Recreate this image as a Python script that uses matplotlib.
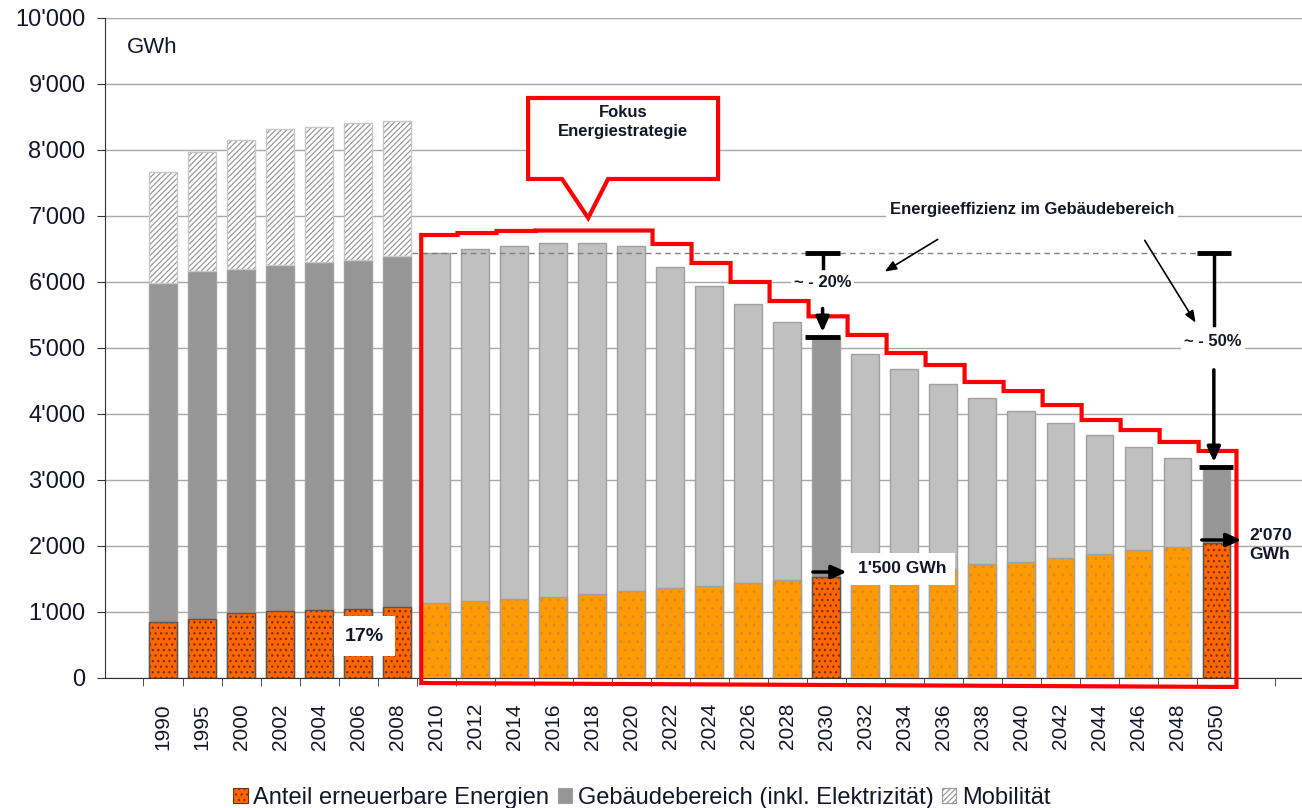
import numpy as np
import matplotlib
matplotlib.use("Agg")
import matplotlib.pyplot as plt
from matplotlib.patches import Patch, Polygon
from matplotlib.ticker import FuncFormatter, FixedLocator

plt.rcParams['font.family'] = ['Liberation Sans', 'DejaVu Sans']
plt.rcParams['hatch.linewidth'] = 0.9

years = ['1990', '1995', '2000', '2002', '2004', '2006', '2008',
         '2010', '2012', '2014', '2016', '2018', '2020', '2022', '2024', '2026',
         '2028', '2030', '2032', '2034', '2036', '2038', '2040', '2042', '2044',
         '2046', '2048', '2050']
# Anteil erneuerbare Energien (GWh)
renew = [850, 895, 985, 1015, 1030, 1045, 1075,
         1135, 1160, 1195, 1230, 1270, 1320, 1360, 1395, 1445,
         1485, 1525, 1575, 1610, 1650, 1725, 1760, 1820, 1880,
         1940, 1985, 2045]
# Gebaeudebereich incl. erneuerbare (GWh)
building = [5985, 6165, 6195, 6255, 6305, 6335, 6395,
            6445, 6500, 6545, 6590, 6590, 6545, 6230, 5940, 5670,
            5395, 5170, 4910, 4680, 4450, 4240, 4045, 3865, 3680,
            3495, 3330, 3165]
# Mobilitaet, only historic years
mobility = [1680, 1805, 1955, 2065, 2045, 2075, 2045]
# red "Fokus" outline level per future bar (2010-2050)
focus_top = [6712, 6742, 6773, 6780, 6780, 6780, 6576, 6288, 6000, 5712,
             5480, 5197, 4924, 4742, 4485, 4348, 4136, 3909, 3757, 3576, 3440]

n_hist = len(mobility)
x = np.arange(len(years))
w = 0.7
txt = '#15152a'

fig = plt.figure(figsize=(13.02, 8.08), dpi=100)
ax = fig.add_axes([105 / 1302, 130 / 808, 1197 / 1302, 660 / 808])

ax.set_ylim(0, 10000)
ax.set_xlim(-1.487, 29.2)
ax.yaxis.set_major_locator(FixedLocator(np.arange(0, 10001, 1000)))
ax.yaxis.set_major_formatter(FuncFormatter(lambda v, p: f"{int(v):,}".replace(',', "'")))
ax.grid(axis='y', color='#a8a8a8', lw=1.0, zorder=0)
ax.set_axisbelow(True)

hi = [17, 27]  # highlighted bars 2030 and 2050
dark_gray = '#969696'
light_gray = '#c0c0c0'

# Gebaeudebereich bars
for i in x:
    if i < n_hist or i in hi:
        fc = dark_gray
    else:
        fc = light_gray
    ax.bar(i, building[i], width=w, color=fc, edgecolor='#a0a0a0', lw=1, zorder=2)

# Mobilitaet
ax.bar(x[:n_hist], mobility, bottom=building[:n_hist], width=w, color='white',
       edgecolor='#9a9a9a', hatch='//////', lw=0, zorder=2)
ax.bar(x[:n_hist], mobility, bottom=building[:n_hist], width=w, fill=False,
       edgecolor='#c8c8c8', lw=1, zorder=2)

# erneuerbare
for i in x:
    if i < n_hist or i in hi:
        ax.bar(i, renew[i], width=w, color='#ff6600', edgecolor='#7a3000',
               hatch='...', lw=0, zorder=3)
        ax.bar(i, renew[i], width=w, fill=False, edgecolor='#555555', lw=1, zorder=3)
    else:
        ax.bar(i, renew[i], width=w, color='#ff9a00', edgecolor='#d88a2a',
               hatch='..', lw=0, zorder=3)
        ax.bar(i, renew[i], width=w, fill=False, edgecolor='#a0a0a0', lw=1, zorder=3)

# axes styling
for s in ['top', 'right']:
    ax.spines[s].set_visible(False)
ax.spines['left'].set_color('#333333')
ax.spines['bottom'].set_color('#333333')
ax.set_xticks(x)
ax.set_xticklabels(years, rotation=90, fontsize=15, color=txt)
ax.set_xticks(np.arange(len(years) + 2) - 0.5, minor=True)
ax.tick_params(axis='x', which='major', length=0, pad=18)
ax.tick_params(axis='x', which='minor', length=6, color='#333333')
ax.tick_params(axis='y', length=6, pad=8, labelsize=17, color='#333333', labelcolor=txt)

ax.text(0.018, 0.955, 'GWh', transform=ax.transAxes, fontsize=16, color=txt,
        va='center', ha='left')

# red Fokus outline
pts = [(6.62, -76), (6.62, focus_top[0])]
for k in range(len(focus_top) - 1):
    b = n_hist + k + 0.55
    pts += [(b, focus_top[k]), (b, focus_top[k + 1])]
pts += [(27.52, focus_top[-1]), (27.52, -136)]
ax.add_patch(Polygon(pts, closed=True, fill=False, edgecolor='#ff0000', lw=3,
                     zorder=5, clip_on=False, joinstyle='miter'))

# callout box
callout = [(9.36, 8788), (14.23, 8788), (14.23, 7561), (11.41, 7561),
           (10.9, 6970), (10.23, 7561), (9.36, 7561)]
ax.add_patch(Polygon(callout, closed=True, facecolor='white', edgecolor='#ff0000',
                     lw=3, zorder=6, joinstyle='miter'))
ax.text(11.8, 8430, 'Fokus\nEnergiestrategie', ha='center', va='center', fontsize=12,
        fontweight='bold', color=txt, zorder=7, linespacing=1.35)

# dashed reference line
ax.plot([6.38, 26.5], [6440, 6440], ls=(0, (4, 3)), color='#808080', lw=1, zorder=4)

arrow_big = dict(arrowstyle='-|>,head_width=0.4,head_length=0.9', color='black', lw=2.5)
arrow_thin = dict(arrowstyle='-|>,head_width=0.28,head_length=0.7', color='black', lw=1.2)

# -20% marker at 2030
ax.plot([16.46, 17.36], [6440, 6440], color='black', lw=3.5, zorder=8, solid_capstyle='butt')
ax.plot([16.91, 16.91], [6440, 6212], color='black', lw=2.5, zorder=8)
ax.text(16.91, 5985, '~ - 20%', ha='center', va='center', fontsize=12,
        fontweight='bold', color=txt, zorder=8,
        bbox=dict(facecolor='white', edgecolor='none', pad=2))
ax.annotate('', xy=(16.91, 5200), xytext=(16.91, 5640), arrowprops=arrow_big, zorder=8)
ax.plot([16.46, 17.36], [5167, 5167], color='black', lw=3.5, zorder=8, solid_capstyle='butt')

# -50% marker at 2050
ax.plot([26.5, 27.38], [6440, 6440], color='black', lw=3.5, zorder=8, solid_capstyle='butt')
ax.plot([26.94, 26.94], [6440, 5348], color='black', lw=2.5, zorder=8)
ax.text(26.92, 5106, '~ - 50%', ha='center', va='center', fontsize=12,
        fontweight='bold', color=txt, zorder=8,
        bbox=dict(facecolor='white', edgecolor='none', pad=2))
ax.annotate('', xy=(26.94, 3230), xytext=(26.94, 4712), arrowprops=arrow_big, zorder=8)
ax.plot([26.56, 27.44], [3197, 3197], color='black', lw=3.5, zorder=8, solid_capstyle='butt')

# Energieeffizienz label and arrows
ax.text(22.28, 7091, 'Energieeffizienz im Gebäudebereich', ha='center', va='center',
        fontsize=12, fontweight='bold', color=txt, zorder=8,
        bbox=dict(facecolor='white', edgecolor='none', pad=3))
ax.annotate('', xy=(18.44, 6136), xytext=(19.92, 6667), arrowprops=arrow_thin, zorder=8)
ax.annotate('', xy=(26.51, 5348), xytext=(25.13, 6667), arrowprops=arrow_thin, zorder=8)

# 1'500 GWh
ax.annotate('', xy=(17.6, 1606), xytext=(16.59, 1606), arrowprops=arrow_big, zorder=8)
ax.text(18.95, 1652, "1'500 GWh", ha='center', va='center', fontsize=12.5,
        fontweight='bold', color=txt, zorder=8,
        bbox=dict(facecolor='white', edgecolor='none', pad=6))

# 2'070 GWh
ax.annotate('', xy=(27.72, 2091), xytext=(26.56, 2091), arrowprops=arrow_big,
            zorder=8, annotation_clip=False)
ax.text(27.85, 2015, "2'070\nGWh", ha='left', va='center', fontsize=12.5,
        fontweight='bold', color=txt, zorder=8, linespacing=1.3)

# 17%
ax.text(5.16, 636, '17%', ha='center', va='center', fontsize=14,
        fontweight='bold', color=txt, zorder=8,
        bbox=dict(facecolor='white', edgecolor='none', pad=8))

# legend
handles = [
    Patch(facecolor='#ff6600', edgecolor='#7a3000', hatch='...', lw=0.8),
    Patch(facecolor=dark_gray, edgecolor='#a0a0a0', lw=0.8),
    Patch(facecolor='white', edgecolor='#9a9a9a', hatch='//////', lw=0.8),
]
labels = ['Anteil erneuerbare Energien', 'Gebäudebereich (inkl. Elektrizität)', 'Mobilität']
fig.legend(handles, labels, loc='lower center', bbox_to_anchor=(0.493, -0.027), ncol=3,
           frameon=False, fontsize=17, handlelength=0.6, handleheight=0.6,
           handletextpad=0.25, columnspacing=0.35, labelcolor=txt)

fig.savefig('out.png', dpi=100)
